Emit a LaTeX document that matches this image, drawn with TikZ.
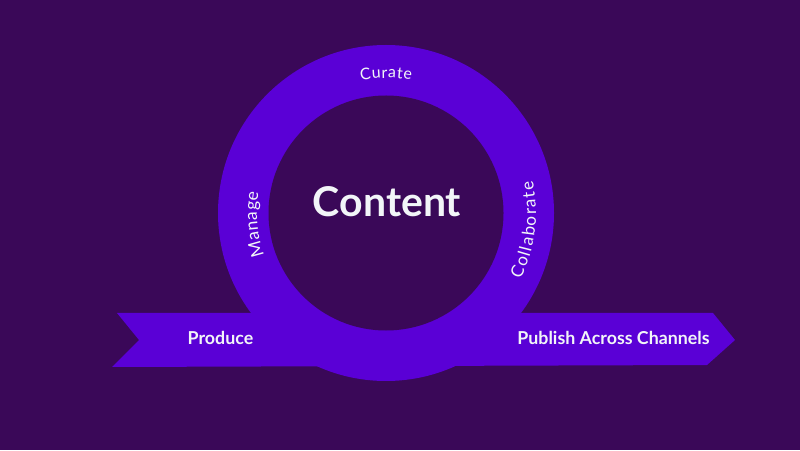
\documentclass[tikz,border=0pt]{standalone}
\usepackage{fontspec}
\newfontfamily\lato{Lato}
\usetikzlibrary{decorations.text}
\definecolor{bgpurple}{HTML}{3A0858}
\definecolor{ringpurple}{HTML}{5A00D6}
\definecolor{offwhite}{HTML}{F2F5F8}
\tikzset{
  bandlabel/.style={text=offwhite, font=\lato\bfseries\fontsize{17.8}{20}\selectfont, anchor=base, inner sep=0pt},
  ringtext/.style n args={3}{decorate, decoration={text effects along path, text={#3}, text align=center,
     text effects/.cd, text along path,
     character widths={font=\lato\fontsize{#1}{#1}\selectfont, inner xsep=#2},
     characters={text=offwhite, font=\lato\fontsize{#1}{#1}\selectfont, inner xsep=#2}}}
}
\begin{document}
\begin{tikzpicture}[x=1pt,y=1pt]
\useasboundingbox (0,0) rectangle (800,450);
\fill[bgpurple] (0,0) rectangle (800,450);
\coordinate (c) at (386,237);
% band
\fill[ringpurple] (117,137) -- (713,137) -- (735,110) -- (707,85) -- (112,83) -- (139,110) -- cycle;
% ring
\fill[ringpurple] (c) circle[radius=168];
\fill[bgpurple] (c) circle[radius=117.5];
% labels on ring
\path[ringtext={16}{0.3pt}{Curate}] (c) ++(130:135) arc[start angle=130, end angle=50, radius=135];
\path[ringtext={17.5}{0.3pt}{Manage}] (c) ++(215:129) arc[start angle=215, end angle=155, radius=129];
\path[ringtext={17.2}{0.7pt}{Collaborate}] (c) ++(-57:150) arc[start angle=-57, end angle=43, radius=150];
% center
\node[text=offwhite, font=\lato\bfseries\fontsize{41}{45}\selectfont, anchor=base, inner sep=0pt] (content) at (387,233) {Content};
\node[bandlabel] (produce) at (220.5,106) {Produce};
\node[bandlabel] (publish) at (613.5,106) {Publish Across Channels};
\end{tikzpicture}
\end{document}
